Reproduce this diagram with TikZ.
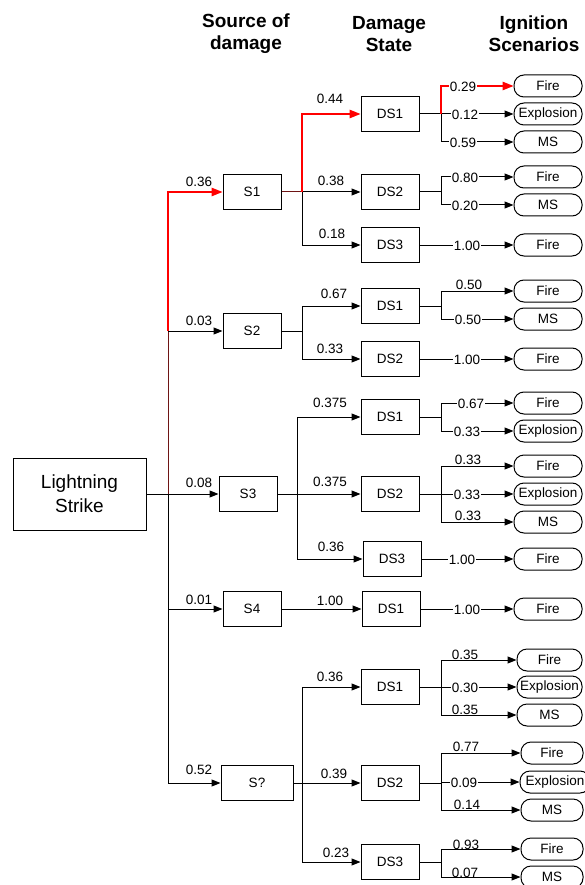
\documentclass[tikz,border=0pt]{standalone}
\usepackage{fontspec}
\setmainfont{Liberation Sans}
\usetikzlibrary{arrows.meta}
\definecolor{rd}{RGB}{255,0,0}
\definecolor{dkrd}{RGB}{110,20,20}
\newcommand{\fsm}{\fontsize{13.5}{15}\selectfont}
\newcommand{\flab}{\fontsize{13.5}{15}\selectfont}
\tikzset{
 bx/.style={draw, line width=1pt, minimum width=58pt, minimum height=35pt, inner sep=0pt, font=\fsm},
 ib/.style={draw, line width=1pt, rounded corners=10pt, minimum width=68pt, minimum height=22pt, inner sep=0pt, font=\fsm},
 ln/.style={line width=1pt},
 arr/.style={ln, -{Triangle[length=9pt,width=7pt]}},
 rarr/.style={line width=1.3pt, draw=rd, -{Triangle[length=11pt,width=8.5pt]}},
 lab/.style={font=\flab, inner sep=0pt},
 lw/.style={lab, fill=white, inner sep=0.6pt},
 hd/.style={font=\fontsize{19}{22}\selectfont\bfseries, align=center},
}
\begin{document}
\begin{tikzpicture}[x=1pt,y=-1pt]
\useasboundingbox (0,0) rectangle (584,885);
% headers
\node[hd] (h1) at (246,34) {Source of\\damage};
\node[hd] (h2) at (389,34) {Damage\\State};
\node[hd] (h3) at (534,34) {Ignition\\Scenarios};
% main nodes
\node[draw, line width=1pt, minimum width=133pt, minimum height=72pt, align=center, font=\fontsize{19}{24}\selectfont] (LS) at (79.5,494) {Lightning\\Strike};
\node[bx] (S1) at (252,192) {S1};
\node[bx] (S2) at (252,331) {S2};
\node[bx] (S3) at (248,494) {S3};
\node[bx] (S4) at (252,609) {S4};
\node[bx, minimum width=72pt] (Sq) at (257,783) {S?};
% damage states
\node[bx] (A1) at (390,114) {DS1};
\node[bx] (A2) at (390,192) {DS2};
\node[bx] (A3) at (390,245) {DS3};
\node[bx] (B1) at (390,306) {DS1};
\node[bx] (B2) at (390,359) {DS2};
\node[bx] (C1) at (390,417) {DS1};
\node[bx] (C2) at (390,494) {DS2};
\node[bx] (C3) at (392,559) {DS3};
\node[bx] (D1) at (391,609) {DS1};
\node[bx] (E1) at (390,687) {DS1};
\node[bx] (E2) at (390,783) {DS2};
\node[bx] (E3) at (390,862) {DS3};
% ignition scenarios
\node[ib] (a1f) at (548,86) {Fire};
\node[ib] (a1e) at (548,114) {Explosion};
\node[ib] (a1m) at (548,142) {MS};
\node[ib] (a2f) at (548,177) {Fire};
\node[ib] (a2m) at (548,205) {MS};
\node[ib] (a3f) at (548,245) {Fire};
\node[ib] (b1f) at (548,291) {Fire};
\node[ib] (b1m) at (548,319) {MS};
\node[ib] (b2f) at (548,359) {Fire};
\node[ib] (c1f) at (548,403) {Fire};
\node[ib] (c1e) at (548,431) {Explosion};
\node[ib] (c2f) at (548,466) {Fire};
\node[ib] (c2e) at (548,494) {Explosion};
\node[ib] (c2m) at (548,522) {MS};
\node[ib] (c3f) at (548,559) {Fire};
\node[ib] (d1f) at (548,609) {Fire};
\node[ib, minimum width=65pt] (e1f) at (549.5,660) {Fire};
\node[ib, minimum width=65pt] (e1e) at (549.5,687) {Explosion};
\node[ib, minimum width=65pt] (e1m) at (549.5,715) {MS};
\node[ib, minimum width=62pt] (e2f) at (552,753) {Fire};
\node[ib, minimum width=70pt] (e2e) at (555,782) {Explosion};
\node[ib, minimum width=62pt] (e2m) at (552,810) {MS};
\node[ib, minimum width=62pt] (e3f) at (552,849) {Fire};
\node[ib, minimum width=62pt] (e3m) at (552,877) {MS};
% junction coordinates
\coordinate (T2) at (168,331);
\coordinate (T3) at (168,494);
\coordinate (T4) at (168,609);
\coordinate (T5) at (168,783);
\coordinate (J1) at (302,192);
\coordinate (J2) at (302,331);
\coordinate (J3) at (297,494);
\coordinate (J5) at (302,783);
\coordinate (KA1) at (441,114);
\coordinate (KA2) at (441,192);
\coordinate (KB1) at (441,306);
\coordinate (KC1) at (441,417);
\coordinate (KC2) at (441,494);
\coordinate (KE1) at (441,687);
\coordinate (KE2) at (441,783);
\coordinate (KE3) at (441,862);
% trunk
\draw[arr] (LS) -- (S3);
\draw[ln, draw=dkrd] (T3) -- (T2);
\draw[ln] (T3) -- (T5);
\draw[arr] (T2) -- (S2);
\draw[arr] (T4) -- (S4);
\draw[arr] (T5) -- (Sq);
\draw[rarr] (T2) |- (S1);
% S groups
\draw[ln, draw=dkrd] (S1) -- (J1);
\draw[arr] (J1) -- (A2);
\draw[arr] (J1) |- (A3);
\draw[rarr] (J1) |- (A1);
\draw[ln] (S2) -- (J2);
\draw[arr] (J2) |- (B1);
\draw[arr] (J2) |- (B2);
\draw[ln] (S3) -- (J3);
\draw[arr] (J3) |- (C1);
\draw[arr] (J3) -- (C2);
\draw[arr] (J3) |- (C3);
\draw[arr] (S4) -- (D1);
\draw[ln] (Sq) -- (J5);
\draw[arr] (J5) |- (E1);
\draw[arr] (J5) -- (E2);
\draw[arr] (J5) |- (E3);
% ignition connectors
\draw[ln] (A1) -- (KA1);
\draw[arr] (KA1) -- (a1e);
\draw[arr] (KA1) |- (a1m);
\draw[rarr] (KA1) |- (a1f);
\draw[ln] (A2) -- (KA2);
\draw[arr] (KA2) |- (a2f);
\draw[arr] (KA2) |- (a2m);
\draw[arr] (A3) -- (a3f);
\draw[ln] (B1) -- (KB1);
\draw[arr] (KB1) |- (b1f);
\draw[arr] (KB1) |- (b1m);
\draw[arr] (B2) -- (b2f);
\draw[ln] (C1) -- (KC1);
\draw[arr] (KC1) |- (c1f);
\draw[arr] (KC1) |- (c1e);
\draw[ln] (C2) -- (KC2);
\draw[arr] (KC2) |- (c2f);
\draw[arr] (KC2) -- (c2e);
\draw[arr] (KC2) |- (c2m);
\draw[arr] (C3) -- (c3f);
\draw[arr] (D1) -- (d1f);
\draw[ln] (E1) -- (KE1);
\draw[arr] (KE1) |- (e1f);
\draw[arr] (KE1) -- (e1e);
\draw[arr] (KE1) |- (e1m);
\draw[ln] (E2) -- (KE2);
\draw[arr] (KE2) |- (e2f);
\draw[arr] (KE2) |- (e2e);
\draw[arr] (KE2) |- (e2m);
\draw[ln] (E3) -- (KE3);
\draw[arr] (KE3) |- (e3f);
\draw[arr] (KE3) |- (e3m);
% labels: source level
\node[lab] (l01) at (199,182) {0.36};
\node[lab] (l02) at (199,321) {0.03};
\node[lab] (l03) at (199,483) {0.08};
\node[lab] (l04) at (199,600) {0.01};
\node[lab] (l05) at (199,770) {0.52};
% labels: damage level
\node[lab] (l06) at (330,99) {0.44};
\node[lab] (l07) at (331,181) {0.38};
\node[lab] (l08) at (332,234) {0.18};
\node[lab] (l09) at (334,294) {0.67};
\node[lab] (l10) at (330,349) {0.33};
\node[lab] (l11) at (330,403) {0.375};
\node[lab] (l12) at (330,482) {0.375};
\node[lab] (l13) at (331,547) {0.36};
\node[lab] (l14) at (330,601) {1.00};
\node[lab] (l15) at (330,677) {0.36};
\node[lab] (l16) at (334,774) {0.39};
\node[lab] (l17) at (336,853) {0.23};
% labels: ignition level
\node[lw] (m01) at (463,87) {0.29};
\node[lw] (m02) at (465,115) {0.12};
\node[lw] (m03) at (463,143) {0.59};
\node[lw] (m04) at (465,178) {0.80};
\node[lw] (m05) at (465,206) {0.20};
\node[lw] (m06) at (467,246) {1.00};
\node[lab] (m07) at (469,285) {0.50};
\node[lw] (m08) at (468,320) {0.50};
\node[lw] (m09) at (467,360) {1.00};
\node[lw] (m10) at (471,404) {0.67};
\node[lw] (m11) at (467,432) {0.33};
\node[lab] (m12) at (468,460) {0.33};
\node[lw] (m13) at (467,495) {0.33};
\node[lab] (m14) at (468,516) {0.33};
\node[lw] (m15) at (462,560) {1.00};
\node[lw] (m16) at (467,610) {1.00};
\node[lab] (m17) at (465,655) {0.35};
\node[lw] (m18) at (465,688) {0.30};
\node[lab] (m19) at (465,710) {0.35};
\node[lab] (m20) at (466,747) {0.77};
\node[lw] (m21) at (464,783) {0.09};
\node[lab] (m22) at (467,805) {0.14};
\node[lab] (m23) at (466,845) {0.93};
\node[lab] (m24) at (465,873) {0.07};
\end{tikzpicture}
\end{document}
